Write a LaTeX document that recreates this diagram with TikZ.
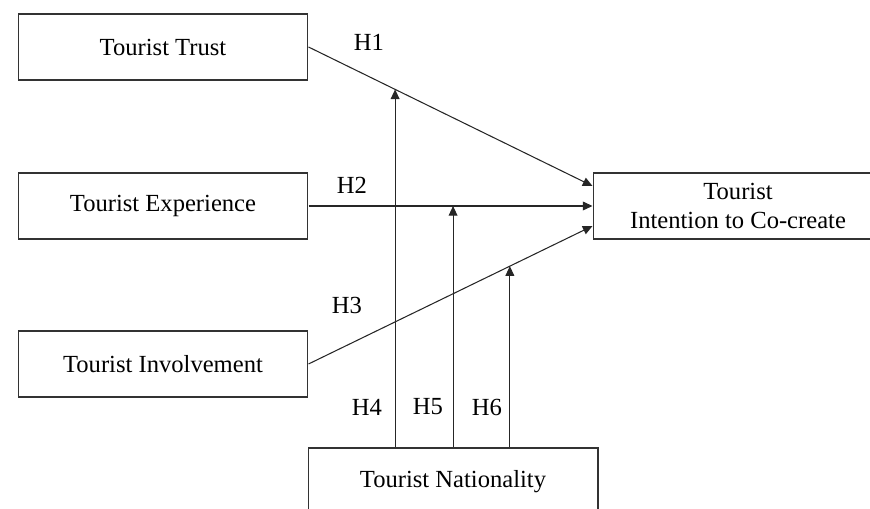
\documentclass[tikz,border=0pt]{standalone}
\usepackage{fontspec}
\setmainfont{Liberation Serif}
\usetikzlibrary{arrows.meta, positioning, calc}

\begin{document}
\begin{tikzpicture}[x=0.02cm, y=-0.02cm, font=\fontsize{14}{17}\selectfont,
    var/.style={draw=black!80, line width=0.6pt, minimum width=5.8cm, minimum height=1.32cm, align=center, inner sep=0pt},
    path/.style={draw=black!85, line width=0.6pt, -{Triangle[length=5.5pt, width=5pt]}},
    hyp/.style={inner sep=0pt}]
  \useasboundingbox (0,0) rectangle (870,509);
  \clip (0,0) rectangle (870,509);
  % constructs
  \node[var] (trust) at (163,47) {Tourist Trust};
  \node[var] (exp) at (163,206) {Tourist Experience};
  \node[var] (inv) at (163,364) {Tourist Involvement};
  \node[var] (intent) at (738,206) {Tourist\\Intention to Co-create};
  \node[var, minimum height=1.36cm] (nat) at (453,482) {Tourist Nationality};
  % direct paths
  \draw[path] (trust.east) -- coordinate[pos=0.305] (m1) ($(intent.west)+(0,-20)$);
  \draw[path] (exp.east) -- coordinate[pos=0.509] (m2) (intent.west);
  \draw[path] (inv.east) -- coordinate[pos=0.709] (m3) ($(intent.west)+(0,20)$);
  % moderation
  \draw[path] (nat.north -| m1) -- (m1);
  \draw[path] (nat.north -| m2) -- (m2);
  \draw[path] (nat.north -| m3) -- (m3);
  % labels
  \node[hyp] (h1) at (369,42) {H1};
  \node[hyp] (h2) at (352,185) {H2};
  \node[hyp] (h3) at (347,305) {H3};
  \node[hyp] (h4) at (367,407) {H4};
  \node[hyp] (h5) at (428,407) {H5};
  \node[hyp] (h6) at (487,407) {H6};
\end{tikzpicture}
\end{document}
